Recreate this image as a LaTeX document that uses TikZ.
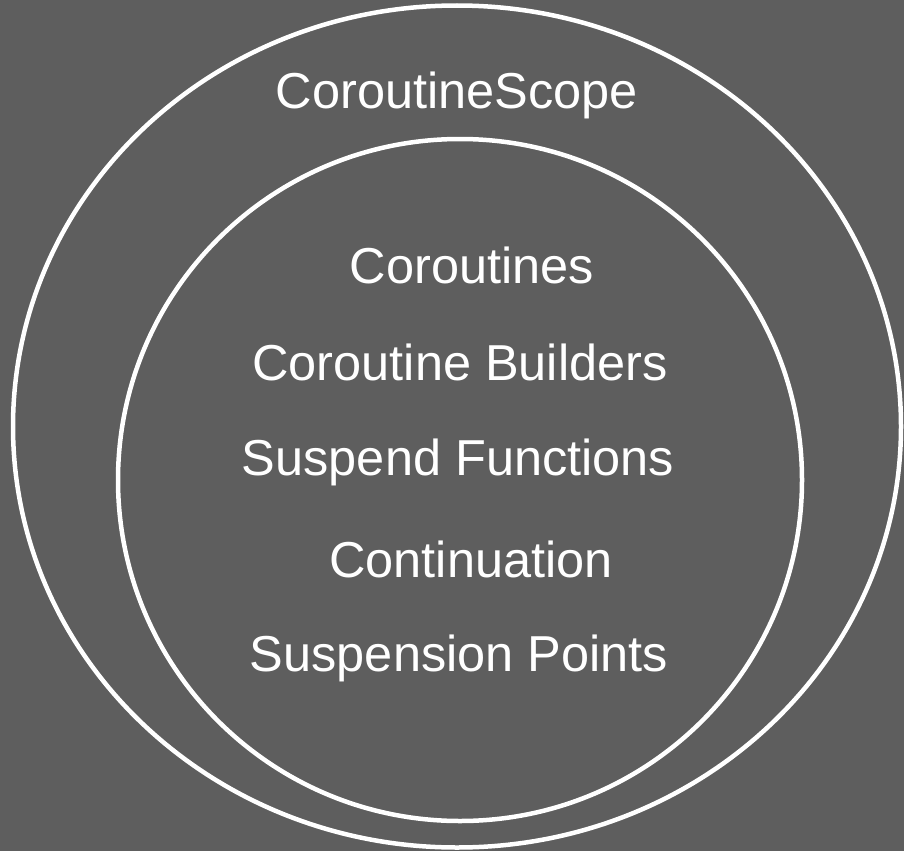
\documentclass[tikz,border=0pt]{standalone}
\usepackage{fontspec}
\setmainfont{Liberation Sans}
\begin{document}
\begin{tikzpicture}[x=1pt,y=-1pt]
\tikzset{lbl/.style={text=white, font=\fontsize{50.5}{60}\selectfont, inner sep=0pt}}
\fill[fill={rgb,255:red,94;green,94;blue,94}] (0,0) rectangle (904,851);
\useasboundingbox (0,0) rectangle (904,851);
%\draw[white] (457,426) ellipse (445 and 421);
\path[draw,white,line width=4.5] (457,426.5) ellipse [x radius=444, y radius=421];
\path[draw,white,line width=4.5] (460,480) ellipse [x radius=342, y radius=341];

\node[lbl] (scope) at (457,95) {CoroutineScope};
\node[lbl] (coro) at (472,265) {Coroutines};
\node[lbl] (build) at (460,362) {Coroutine Builders};
\node[lbl] (susp) at (458,462) {Suspend Functions};
\node[lbl] (cont) at (471,559) {Continuation};
\node[lbl] (points) at (459,658) {Suspension Points};
\end{tikzpicture}
\end{document}
